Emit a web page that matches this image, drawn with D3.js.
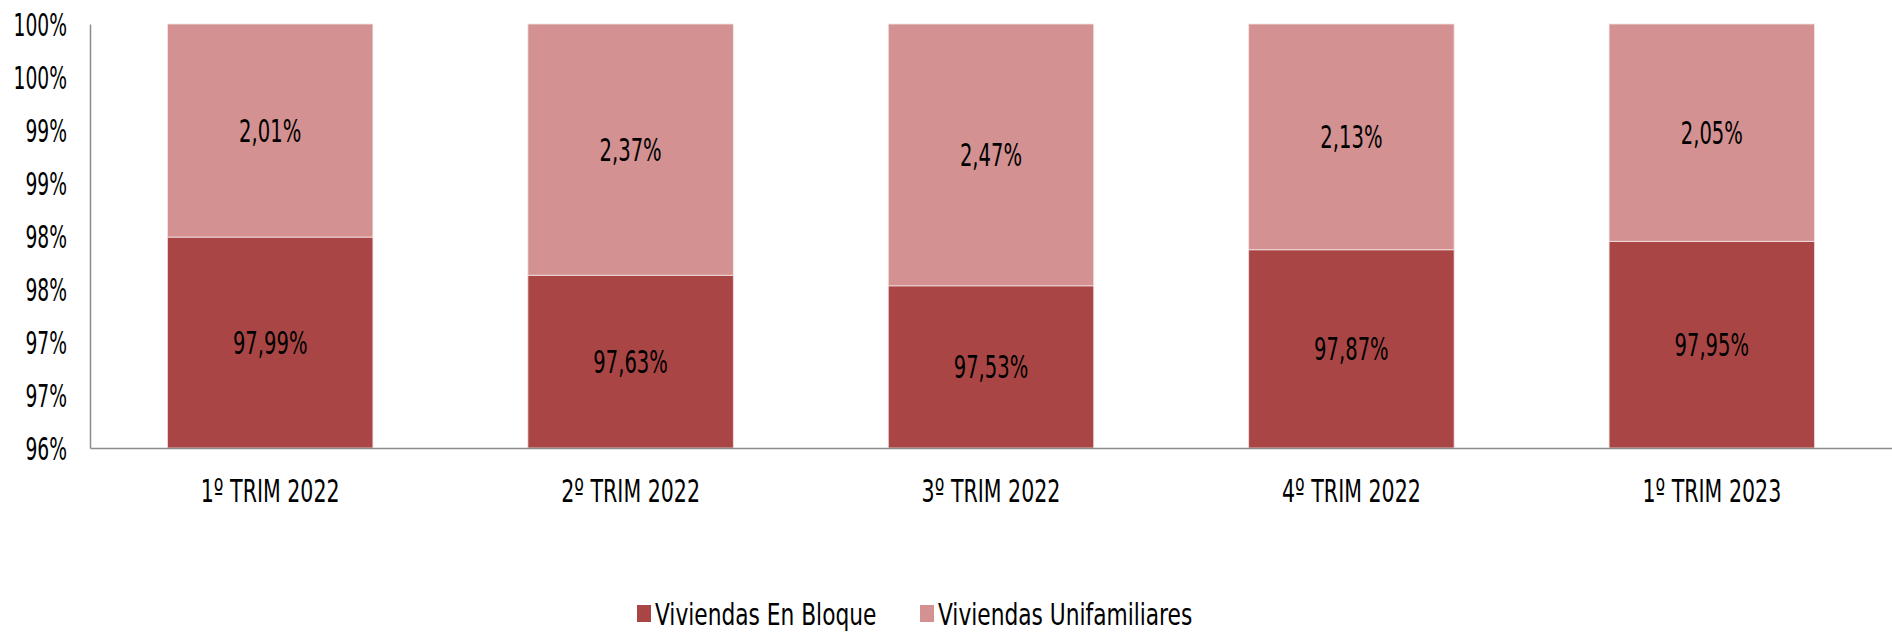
<!DOCTYPE html>
<html>
<head>
<meta charset="utf-8">
<script src="https://cdn.jsdelivr.net/npm/d3@7"></script>
<style>
    body { margin: 0; background: #fff; }
    svg text { font-family: "Liberation Sans Narrow", "DejaVu Sans Condensed", sans-serif; fill: #000; }
</style>
</head>
<body>
<div id="divGrafico"></div>
<script>

var categorias = ["1º TRIM 2022", "2º TRIM 2022", "3º TRIM 2022", "4º TRIM 2022", "1º TRIM 2023"];
var enBloque = [97.99, 97.63, 97.53, 97.87, 97.95];
var unifamiliares = [2.01, 2.37, 2.47, 2.13, 2.05];
var ticksY = [96, 96.5, 97, 97.5, 98, 98.5, 99, 99.5, 100];
var etiquetasY = ["96%", "97%", "97%", "98%", "98%", "99%", "99%", "100%", "100%"];
var series = ["Viviendas En Bloque", "Viviendas Unifamiliares"];
var colores = ["#a94645", "#d39191"];

var ancho = 1892, alto = 633;
var margen = { top: 24, right: 0, bottom: 185, left: 90 };

InicializaGrafico();

function formatoComa(v) {
    return v.toFixed(2).replace(".", ",") + "%";
}

function InicializaGrafico() {
    var svg = d3.select("#divGrafico").append("svg")
        .attr("width", ancho)
        .attr("height", alto);

    var x = d3.scaleBand()
        .domain(categorias)
        .range([margen.left, ancho - margen.right])
        .paddingInner(0.43)
        .paddingOuter(0.215);

    var y = d3.scaleLinear()
        .domain([96, 100])
        .range([alto - margen.bottom, margen.top]);

    var datos = categorias.map(function (c, i) {
        return { cat: c, bloque: enBloque[i], uni: unifamiliares[i] };
    });

    // barras
    var grupos = svg.append("g").selectAll("g")
        .data(datos)
        .enter().append("g");

    grupos.append("rect")
        .attr("x", function (d) { return x(d.cat); })
        .attr("width", x.bandwidth())
        .attr("y", function (d) { return y(d.bloque); })
        .attr("height", function (d) { return y(96) - y(d.bloque); })
        .attr("fill", colores[0])
        .attr("stroke", "#f2dcdc")
        .attr("stroke-width", 0.8);

    grupos.append("rect")
        .attr("x", function (d) { return x(d.cat); })
        .attr("width", x.bandwidth())
        .attr("y", function (d) { return y(Math.min(100, d.bloque + d.uni)); })
        .attr("height", function (d) { return y(d.bloque) - y(Math.min(100, d.bloque + d.uni)); })
        .attr("fill", colores[1])
        .attr("stroke", "#f5e4e4")
        .attr("stroke-width", 0.8);

    // etiquetas de datos
    grupos.append("text")
        .attr("transform", function (d) {
            var cy = (y(96) + y(d.bloque)) / 2;
            return "translate(" + (x(d.cat) + x.bandwidth() / 2) + "," + cy + ") scale(0.68,1)";
        })
        .attr("text-anchor", "middle")
        .attr("dy", "0.36em")
        .style("font-size", "32px")
        .text(function (d) { return formatoComa(d.bloque); });

    grupos.append("text")
        .attr("transform", function (d) {
            var cy = (y(d.bloque) + y(100)) / 2;
            return "translate(" + (x(d.cat) + x.bandwidth() / 2) + "," + cy + ") scale(0.68,1)";
        })
        .attr("text-anchor", "middle")
        .attr("dy", "0.36em")
        .style("font-size", "32px")
        .text(function (d) { return formatoComa(d.uni); });

    // eje Y
    var ejeY = svg.append("g")
        .attr("transform", "translate(" + margen.left + ",0)")
        .call(d3.axisLeft(y)
            .tickValues(ticksY)
            .tickSize(0)
            .tickPadding(0)
            .tickFormat(function (d, i) { return etiquetasY[i]; }));
    ejeY.select(".domain").attr("stroke", "#8c8c8c").attr("stroke-width", 1.5);
    ejeY.selectAll("text")
        .attr("x", null)
        .attr("transform", "translate(-23,0) scale(0.65,1)")
        .attr("dy", "0.36em")
        .style("font-size", "32px")
        .style("font-family", null);

    // eje X
    var ejeX = svg.append("g")
        .attr("transform", "translate(0," + y(96) + ")")
        .call(d3.axisBottom(x).tickSize(0).tickPadding(0).tickSizeOuter(0));
    ejeX.select(".domain").attr("stroke", "#8c8c8c").attr("stroke-width", 1.5);
    ejeX.selectAll("text")
        .attr("y", null)
        .attr("dy", null)
        .attr("transform", "translate(0,54) scale(0.715,1)")
        .style("font-size", "32px")
        .style("font-family", null);

    // leyenda
    var posLeyenda = [637, 920];
    var leyenda = svg.append("g").selectAll("g")
        .data(series)
        .enter().append("g")
        .attr("transform", function (d, i) { return "translate(" + posLeyenda[i] + ",605)"; });

    leyenda.append("rect")
        .attr("width", 14)
        .attr("height", 17)
        .attr("fill", function (d, i) { return colores[i]; });

    leyenda.append("text")
        .attr("transform", "translate(18,20) scale(0.78,1)")
        .style("font-size", "31px")
        .text(function (d) { return d; });
}
</script>
</body>
</html>
